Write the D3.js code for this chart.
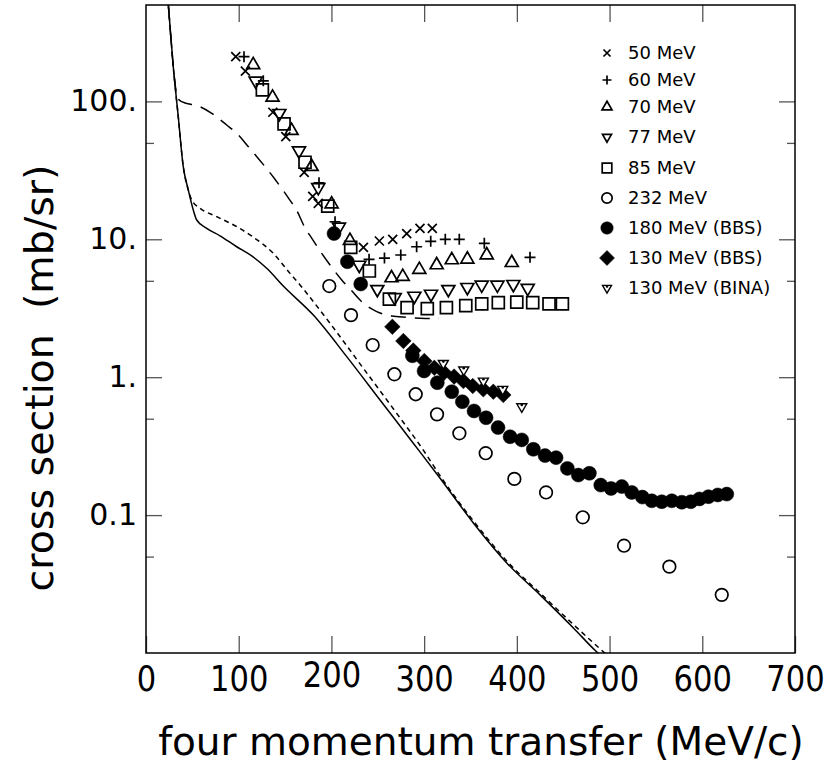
<!DOCTYPE html>
<html>
<head>
<meta charset="utf-8">
<script src="https://cdn.jsdelivr.net/npm/d3@7"></script>
<style>
  body { margin: 0; background: #fff; }
  svg { display: block; }
  text { font-family: "DejaVu Sans", sans-serif; fill: #000; }
</style>
</head>
<body>
<svg id="chart" width="835" height="767"></svg>
<script>
// measured points, q in MeV/c, cross section in mb/sr
const q50 = [96.8, 107.2, 136.8, 150.8, 170.6, 179.8, 185.8, 234.5, 251.7, 266.1, 281.2, 295.5, 308.8];
const cs50 = [211, 166, 83.4, 55.5, 30.6, 20.5, 18.2, 8.75, 9.72, 10.0, 11.0, 12.0, 12.0];

const q60 = [105.7, 126.5, 186.6, 203.9, 240.6, 257.2, 274.8, 291.9, 307.1, 322.8, 337.9, 364.9, 414.2];
const cs60 = [211, 141, 25.7, 13.4, 7.16, 7.31, 7.69, 8.83, 9.67, 10.0, 10.0, 9.35, 7.40];

const q70 = [115.6, 136.5, 157, 178.6, 200.2, 220, 264.8, 276.9, 294.8, 313.5, 329.8, 346.6, 367.5, 394.5];
const cs70 = [184, 107, 61.3, 33.6, 18.0, 9.77, 5.24, 5.36, 6.02, 6.51, 7.08, 7.16, 7.69, 6.76];

const q77 = [118.3, 143.8, 165, 185.8, 208.1, 230, 249.5, 268.2, 289.4, 307.4, 326.1, 346.6, 362.1, 379, 396.2, 411.7];
const cs77 = [141, 82.0, 43.9, 23.8, 12.3, 6.51, 4.34, 3.79, 3.88, 4.01, 4.34, 4.49, 4.67, 4.67, 4.72, 4.42];

const q85 = [125.5, 148.9, 171.5, 196, 220.8, 240.9, 262.5, 281.6, 303.4, 324, 344.9, 362.1, 380, 399.9, 417.1, 434.7, 449.1];
const cs85 = [121, 68.6, 36.2, 17.4, 8.75, 5.89, 3.68, 3.19, 3.14, 3.19, 3.30, 3.40, 3.47, 3.50, 3.47, 3.40, 3.40];

const q232 = [197.7, 221.1, 244.5, 267.9, 290.9, 313.9, 338, 366.4, 397.3, 431.5, 471.1, 515.6, 564.5, 621];
const cs232 = [4.58, 2.82, 1.71, 1.05, 0.752, 0.538, 0.392, 0.281, 0.183, 0.146, 0.0964, 0.060, 0.0423, 0.0264];

const q180 = [202.8, 217.2, 231.6, 287.3, 299.9, 314.2, 329.8, 341.2, 353.8, 366.8, 379.7, 392.7, 405.3, 417.8, 430.4,
  442.3, 454.5, 466.3, 478.2, 490.5, 501.6, 513.2, 523.9, 535.4, 545.5, 556.3, 567.1, 577.9, 587.6, 596.9, 606.6, 616.7, 626.4];
const cs180 = [11.0, 6.88, 4.74, 1.43, 1.11, 0.912, 0.785, 0.664, 0.569, 0.508, 0.431, 0.370, 0.351, 0.300, 0.270,
  0.261, 0.218, 0.195, 0.201, 0.165, 0.156, 0.161, 0.146, 0.135, 0.127, 0.125, 0.127, 0.124, 0.125, 0.131, 0.136, 0.140, 0.142];

const q130 = [265.7, 277.6, 288.3, 300.2, 311, 321.5, 332.3, 342.3, 352.4, 363.8, 374.6, 385.4];
const cs130 = [2.32, 1.83, 1.56, 1.31, 1.17, 1.08, 1.01, 0.938, 0.863, 0.817, 0.785, 0.743];

const qBina = [320.7, 342.7, 363.9, 384.8, 405.3];
const csBina = [1.26, 1.13, 0.938, 0.817, 0.611];

// calculations (three curves)
const qSolid = [22, 24.1, 29.4, 34.8, 40.2, 45.6, 51.0, 54.7, 65.5, 79.8, 97.8, 114, 130.2, 148.1, 180.5, 216.5,
  252.4, 288.3, 317.2, 353.1, 389.1, 425, 461, 485.4, 492];
const csSolid = [760, 500, 179, 77.4, 33.6, 22.8, 16.3, 13.8, 12.0, 10.6, 8.83, 7.57, 6.16, 4.58, 2.82, 1.41,
  0.684, 0.332, 0.185, 0.0877, 0.0450, 0.0264, 0.0152, 0.0103, 0.0094];

const qShort = [22, 24.1, 29.4, 34.8, 40.2, 45.6, 49.3, 58.3, 76.3, 98.2, 115.4, 137.3, 155.3, 166.1, 173.4, 198.5,
  234.4, 270.4, 299.1, 319, 354.9, 391, 427.2, 464.9, 493.3, 498.4];
const csShort = [760, 500, 179, 77.4, 33.6, 22.8, 19.3, 16.8, 14.6, 12.3, 10.4, 7.91, 5.66, 4.67, 4.06, 2.46,
  1.16, 0.547, 0.296, 0.185, 0.0877, 0.0450, 0.0264, 0.0152, 0.0102, 0.0095];

const qLong = [22, 24.1, 29.4, 32.5, 35, 38.5, 58.3, 70.9, 87, 97.8, 110.4, 121.1, 138.1, 152.6, 162.9, 171.5,
  178.7, 189.5, 198.5, 211.1, 220.1, 234.4, 248.9, 265, 281.2, 301, 316];
const csLong = [760, 500, 179, 118, 104, 99.5, 91.5, 82, 67.4, 58.7, 46.9, 38.6, 27.8, 20.4, 16.0, 12.1,
  10.2, 7.91, 6.51, 5.07, 4.36, 3.44, 2.99, 2.78, 2.72, 2.67, 2.67];

const xTicks = [0, 100, 200, 300, 400, 500, 600, 700];
const yTicks = [100, 10, 1, 0.1];
const yTickLabels = ['100.', '10.', '1.', '0.1'];
const yMinor = [50, 5, 0.5, 0.05];

const seriesNames = ['50 MeV', '60 MeV', '70 MeV', '77 MeV', '85 MeV', '232 MeV', '180 MeV (BBS)', '130 MeV (BBS)', '130 MeV (BINA)'];
const seriesQ = [q50, q60, q70, q77, q85, q232, q180, q130, qBina];
const seriesCs = [cs50, cs60, cs70, cs77, cs85, cs232, cs180, cs130, csBina];
const seriesShape = ['x', 'plus', 'up', 'down', 'square', 'circle', 'dot', 'diamond', 'bina'];

const svg = d3.select('#chart');
const pLeft = 146, pRight = 795, pTop = 5, pBottom = 653;

const x = d3.scaleLinear().domain([0, 700]).range([pLeft, pRight]);
const y = d3.scaleLog().domain([0.01, 500]).range([pBottom, pTop]);

svg.append('defs').append('clipPath').attr('id', 'plotclip')
  .append('rect').attr('x', pLeft).attr('y', pTop).attr('width', pRight - pLeft).attr('height', pBottom - pTop);

// marker outline, centred on 0,0
function shape(type, r) {
  const h = r * Math.sqrt(3);
  switch (type) {
    case 'x': return `M${-r},${-r}L${r},${r}M${-r},${r}L${r},${-r}`;
    case 'plus': return `M${-r},0H${r}M0,${-r}V${r}`;
    case 'up': return `M0,${-2 * h / 3}L${r},${h / 3}L${-r},${h / 3}Z`;
    case 'down':
    case 'bina': return `M0,${2 * h / 3}L${r},${-h / 3}L${-r},${-h / 3}Z`;
    case 'square': return `M${-r},${-r}H${r}V${r}H${-r}Z`;
    case 'diamond': return `M0,${-r}L${r},0L0,${r}L${-r},0Z`;
    default: return `M${r},0A${r},${r} 0 1,1 ${-r},0A${r},${r} 0 1,1 ${r},0Z`;
  }
}
const plotSize = { x: 4.5, plus: 5.5, up: 6.5, down: 6.5, square: 6, circle: 6.3, dot: 7, diamond: 7.8, bina: 5 };
const legSize = { x: 3.5, plus: 4.5, up: 5, down: 4.5, square: 4.8, circle: 5.2, dot: 6.2, diamond: 7.5, bina: 4.5 };

function drawMarker(g, type, r) {
  const filled = type === 'dot' || type === 'diamond';
  g.append('path')
    .attr('d', shape(type, r))
    .attr('fill', filled ? '#000' : (type === 'bina' ? '#fff' : 'none'))
    .attr('stroke', '#000')
    .attr('stroke-width', type === 'bina' ? 1.4 : (filled ? 0.5 : 1.7));
  if (type === 'bina') {
    g.append('circle').attr('cx', 0).attr('cy', -r * 0.35).attr('r', 1.3).attr('fill', '#000');
  }
}

// theory curves
const line = d3.line().x(d => x(d[0])).y(d => y(d[1])).curve(d3.curveMonotoneX);
const curves = [
  { q: qSolid, cs: csSolid, dash: null },
  { q: qShort, cs: csShort, dash: '5,4' },
  { q: qLong, cs: csLong, dash: '15,9' }
];
const curveG = svg.append('g').attr('clip-path', 'url(#plotclip)');
curves.forEach(c => {
  curveG.append('path')
    .datum(d3.zip(c.q, c.cs))
    .attr('d', line)
    .attr('fill', 'none')
    .attr('stroke', '#000')
    .attr('stroke-width', 1.5)
    .attr('stroke-dasharray', c.dash);
});

// data points
seriesNames.forEach((name, i) => {
  const type = seriesShape[i];
  svg.append('g')
    .selectAll('g')
    .data(d3.zip(seriesQ[i], seriesCs[i]))
    .join('g')
    .attr('transform', d => `translate(${x(d[0])},${y(d[1])})`)
    .each(function () { drawMarker(d3.select(this), type, plotSize[type]); });
});

// axes, ticks pointing inward
const tickColor = '#555';
function styleAxis(g) {
  g.select('.domain').remove();
  g.selectAll('.tick line').attr('stroke', tickColor).attr('stroke-width', 1.3);
}

// bottom tick labels are tall and narrow in the original
const xFont = 36;
svg.append('g').attr('transform', `translate(0,${pBottom})`)
  .call(d3.axisBottom(x).tickValues(xTicks).tickSize(-17).tickPadding(12).tickFormat(d3.format('d')))
  .call(styleAxis)
  .call(g => g.selectAll('text')
    .attr('font-size', xFont)
    .attr('font-family', '"DejaVu Sans", sans-serif')
    .attr('textLength', d => String(d).length * 0.636 * xFont * 0.85)
    .attr('lengthAdjust', 'spacingAndGlyphs')
    .attr('dy', d => d === 200 ? '0.62em' : '0.71em'));

svg.append('g').attr('transform', `translate(0,${pTop})`)
  .call(d3.axisTop(x).tickValues(xTicks.slice(1, -1)).tickSize(-17).tickFormat(''))
  .call(styleAxis);

svg.append('g').attr('transform', `translate(${pLeft},0)`)
  .call(d3.axisLeft(y).tickValues(yTicks).tickSize(-16).tickPadding(9)
    .tickFormat((d, i) => yTickLabels[i]))
  .call(styleAxis)
  .call(g => g.selectAll('text').attr('font-size', 30).attr('font-family', '"DejaVu Sans", sans-serif'));

svg.append('g').attr('transform', `translate(${pLeft},0)`)
  .call(d3.axisLeft(y).tickValues(yMinor).tickSize(-8).tickFormat(''))
  .call(styleAxis);

svg.append('g').attr('transform', `translate(${pRight},0)`)
  .call(d3.axisRight(y).tickValues(yTicks).tickSize(-16).tickFormat(''))
  .call(styleAxis);

svg.append('g').attr('transform', `translate(${pRight},0)`)
  .call(d3.axisRight(y).tickValues(yMinor).tickSize(-8).tickFormat(''))
  .call(styleAxis);

// frame
svg.append('rect')
  .attr('x', pLeft).attr('y', pTop)
  .attr('width', pRight - pLeft).attr('height', pBottom - pTop)
  .attr('fill', 'none').attr('stroke', '#000').attr('stroke-width', 1.5);

// axis titles
svg.append('text')
  .attr('x', 481).attr('y', 755)
  .attr('text-anchor', 'middle')
  .attr('font-size', 39)
  .text('four momentum transfer (MeV/c)');

svg.append('text')
  .attr('transform', 'translate(53,378) rotate(-90)')
  .attr('text-anchor', 'middle')
  .attr('font-size', 39.5)
  .style('white-space', 'pre')
  .text('cross section  (mb/sr)');

// legend
const legRows = [53, 80, 107, 137, 168, 198, 228, 258, 288];
const legend = svg.append('g');
seriesNames.forEach((name, i) => {
  const type = seriesShape[i];
  const row = legend.append('g').attr('transform', `translate(607,${legRows[i]})`);
  drawMarker(row.append('g'), type, legSize[type]);
  row.append('text')
    .attr('x', 21).attr('dy', '0.36em')
    .attr('font-size', 18)
    .text(name);
});
</script>
</body>
</html>
